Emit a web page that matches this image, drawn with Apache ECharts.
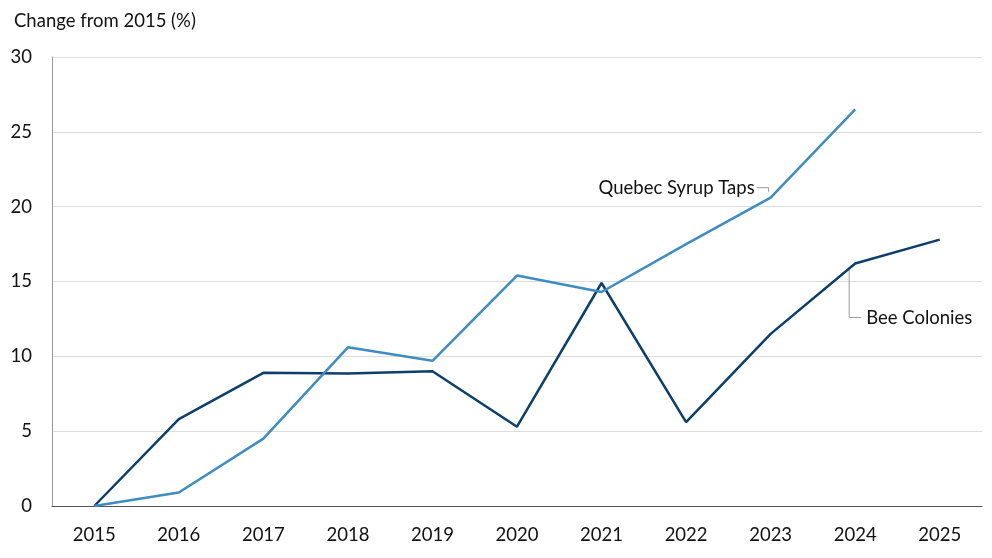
<!DOCTYPE html><html><head><meta charset="utf-8">
<script src="https://cdn.jsdelivr.net/npm/echarts@6/dist/echarts.min.js"></script>
<style>html,body{margin:0;padding:0;background:#fff}#c{width:992px;height:558px}</style></head><body><div id="c"></div>
<script>
const years=['2015','2016','2017','2018','2019','2020','2021','2022','2023','2024','2025'];
const bee=[0,5.8,8.9,8.85,9.0,5.3,14.9,5.6,11.5,16.2,17.8];
const quebec=[0,0.9,4.5,10.6,9.7,15.4,14.3,17.5,20.6,26.5,null];
const yTicks=[0,5,10,15,20,25,30];
const F='Lato, "Noto Sans", sans-serif';
const ch=echarts.init(document.getElementById('c'));
ch.setOption({
 animation:false,
 title:{text:'Change from 2015 (%)',left:9,top:7,textStyle:{fontFamily:F,fontSize:18.5,fontWeight:'normal',color:'#111'}},
 grid:{left:52,right:10,top:57,bottom:52},
 xAxis:{type:'category',data:years,boundaryGap:true,
  axisLine:{lineStyle:{color:'#555'}},axisTick:{show:false},
  axisLabel:{fontFamily:F,fontSize:18.5,color:'#111',margin:20}},
 yAxis:{type:'value',min:yTicks[0],max:yTicks[yTicks.length-1],interval:5,
  axisLine:{show:true,lineStyle:{color:'#999'}},
  splitLine:{lineStyle:{color:'#ddd'}},
  axisLabel:{fontFamily:F,fontSize:18.5,color:'#111',margin:20}},
 series:[
  {name:'Bee Colonies',type:'line',data:bee,symbol:'none',lineStyle:{color:'#0d3f6b',width:2.5},itemStyle:{color:'#0d3f6b'}},
  {name:'Quebec Syrup Taps',type:'line',data:quebec,symbol:'none',lineStyle:{color:'#3e8cc1',width:2.5},itemStyle:{color:'#3e8cc1'}}
 ]
});
const q=ch.convertToPixel({seriesIndex:1},[8,quebec[8]]);
const b=ch.convertToPixel({seriesIndex:0},[9,bee[9]]);
ch.setOption({graphic:[
 {type:'polyline',shape:{points:[[q[0]-14,q[1]-10],[q[0]-2,q[1]-10],[q[0]-2,q[1]-6]]},style:{stroke:'#999',fill:null,lineWidth:1}},
 {type:'text',x:q[0]-16,y:q[1]-10,style:{text:'Quebec Syrup Taps',fontFamily:F,fontSize:18.5,fill:'#111',align:'right',verticalAlign:'middle'}},
 {type:'polyline',shape:{points:[[b[0]-6,b[1]+6],[b[0]-6,b[1]+54],[b[0]+6,b[1]+54]]},style:{stroke:'#999',fill:null,lineWidth:1}},
 {type:'text',x:b[0]+11,y:b[1]+54,style:{text:'Bee Colonies',fontFamily:F,fontSize:18.5,fill:'#111',align:'left',verticalAlign:'middle'}}
]});
</script></body></html>
